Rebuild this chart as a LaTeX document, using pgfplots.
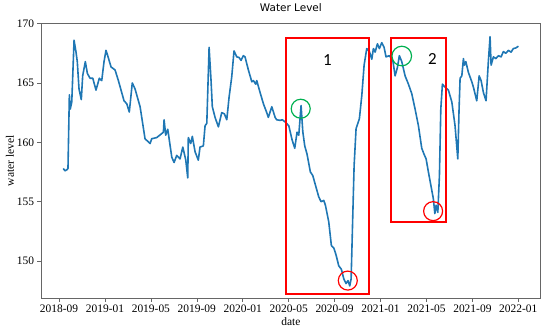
\documentclass[border=0pt]{standalone}
\usepackage{pgfplots}
\pgfplotsset{compat=1.18}
\usepackage{fontspec}
\setmainfont{Liberation Serif}
\newfontfamily\dejavu{DejaVu Sans}
\newfontfamily\carlito{Carlito}
\definecolor{mplblue}{HTML}{1F77B4}
\definecolor{okgreen}{HTML}{00B050}
\begin{document}
\begin{tikzpicture}
\begin{axis}[
  scale only axis,
  width=499.7bp, height=274.4bp,
  xmin=6.43, xmax=49.95,
  ymin=146.88, ymax=170.0,
  xtick={8,12,16,20,24,28,32,36,40,44,48},
  xticklabels={2018-09,2019-01,2019-05,2019-09,2020-01,2020-05,2020-09,2021-01,2021-05,2021-09,2022-01},
  ytick={150,155,160,165,170},
  tick align=outside,
  tick pos=left,
  major tick length=3.5bp,
  tick style={gray!80!black, line width=0.6bp},
  axis line style={gray!80!black, line width=0.8bp},
  /pgf/number format/assume math mode=true,
  tick label style={font=\fontsize{11.5}{12}\selectfont},
  xticklabel style={yshift=0bp},
  title={\dejavu\fontsize{10.5}{12}\selectfont Water Level},
  title style={at={(axis description cs:0.5,1.0375)}, anchor=center},
  xlabel={date},
  xlabel style={font=\fontsize{11.5}{12}\selectfont, at={(axis description cs:0.5,-0.084)}, anchor=center},
  ylabel={water level},
  ylabel style={font=\fontsize{11.5}{12}\selectfont, at={(axis description cs:-0.062,0.5)}, anchor=center},
  clip=false,
]
\addplot[mplblue, line width=1.6bp, line join=round] table {
x y
8.37 157.8
8.52 157.6
8.70 157.7
8.78 157.8
8.90 164.0
8.98 162.8
9.11 163.4
9.31 168.6
9.48 167.6
9.59 166.8
9.74 164.5
9.94 163.6
10.06 165.6
10.29 166.8
10.47 165.8
10.70 165.4
10.94 165.4
11.22 164.4
11.51 165.4
11.72 165.2
11.92 166.8
12.09 167.75
12.24 167.3
12.53 166.35
12.88 166.1
13.17 165.2
13.66 163.5
13.90 163.25
14.12 162.55
14.38 165.0
14.62 164.5
15.06 163.0
15.49 160.3
15.93 159.9
16.07 160.3
16.51 160.4
17.09 160.85
17.15 161.9
17.29 160.6
17.47 161.1
17.67 159.75
17.82 158.75
18.02 158.3
18.25 158.9
18.54 158.6
18.78 159.6
19.04 158.5
19.21 157.0
19.26 160.4
19.47 159.9
19.61 160.5
19.85 159.2
20.13 158.5
20.28 159.6
20.57 159.7
20.72 161.4
20.87 161.6
21.07 168.0
21.24 165.2
21.35 163.0
21.59 162.1
21.88 161.3
22.17 162.5
22.40 162.4
22.61 161.9
22.81 163.8
23.04 165.5
23.24 167.7
23.48 167.2
23.68 167.15
23.85 166.9
24.05 167.3
24.20 167.2
24.49 166.1
24.79 165.1
24.93 165.2
25.13 164.9
25.22 165.2
25.51 164.2
25.80 163.25
26.09 162.5
26.23 162.1
26.53 163.0
26.82 162.1
26.96 161.9
27.25 161.85
27.45 161.9
27.71 161.7
28.01 161.4
28.30 160.2
28.53 159.5
28.73 160.85
28.88 160.6
29.08 163.1
29.23 160.9
29.40 159.7
29.60 159.0
29.89 157.5
30.10 157.2
30.33 156.4
30.62 155.4
30.82 155.0
31.06 155.1
31.20 154.7
31.49 153.3
31.72 151.3
31.93 151.1
32.13 150.5
32.36 149.6
32.59 149.3
32.80 148.5
33.00 148.1
33.17 148.35
33.32 147.9
33.44 148.5
33.58 153.7
33.70 158.05
33.87 161.15
34.16 162.0
34.37 163.95
34.57 166.5
34.80 167.9
35.03 167.65
35.24 167.0
35.38 167.9
35.53 167.6
35.73 168.3
35.90 167.9
36.11 168.4
36.31 168.0
36.48 167.2
36.77 167.3
37.07 166.9
37.27 165.6
37.47 166.3
37.64 167.3
37.85 166.8
38.14 165.6
38.43 164.9
38.72 164.1
39.01 162.8
39.30 161.4
39.59 159.5
39.79 159.0
39.97 158.6
40.17 157.5
40.38 156.4
40.60 155.25
40.73 154.0
40.84 154.7
40.99 154.1
41.13 157.2
41.25 162.8
41.39 164.9
41.62 164.65
41.91 164.4
42.21 163.4
42.49 161.4
42.73 158.6
42.84 162.8
42.93 165.4
43.08 165.6
43.22 167.05
43.30 166.5
43.43 166.8
43.65 165.9
43.95 165.1
44.09 164.65
44.38 163.5
44.59 165.6
44.76 165.2
44.96 164.2
45.19 163.5
45.39 166.8
45.54 168.9
45.63 166.5
45.83 167.2
46.04 167.05
46.27 167.3
46.50 167.2
46.70 167.65
46.91 167.5
47.14 167.75
47.37 167.6
47.57 167.9
47.78 167.95
48.01 168.1
};
% annotations
\draw[red, line width=2bp] (axis cs:27.75,147.23) rectangle (axis cs:35.03,168.82);
\draw[red, line width=2bp] (axis cs:36.89,153.27) rectangle (axis cs:41.71,168.82);
\node[font=\carlito\fontsize{17}{18}\selectfont] at (axis cs:31.37,166.9) {1};
\node[font=\carlito\fontsize{17}{18}\selectfont] at (axis cs:40.52,167.05) {2};
\draw[okgreen, line width=1.2bp] (axis cs:29.05,162.83) circle[radius=9.5bp];
\draw[okgreen, line width=1.2bp] (axis cs:37.85,167.27) circle[radius=9.8bp];
\draw[red, line width=1.2bp] (axis cs:33.15,148.35) circle[radius=9.5bp];
\draw[red, line width=1.2bp] (axis cs:40.58,154.2) circle[radius=9.5bp];
\end{axis}
\path (current axis.south west) ++(-41bp,-30.3bp) coordinate (bbA);
\path (current axis.north east) ++(9.3bp,18.3bp) coordinate (bbB);
\path (bbA) rectangle (bbB);
\end{tikzpicture}
\end{document}
